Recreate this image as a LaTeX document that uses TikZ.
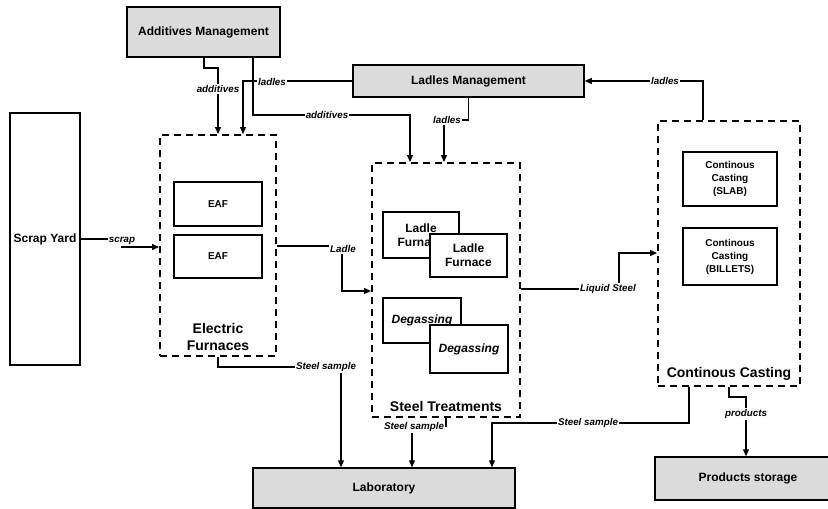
\documentclass[tikz,border=0pt]{standalone}
\usepackage{fontspec}
\setmainfont{Liberation Sans}
\usetikzlibrary{arrows.meta}
\definecolor{boxgray}{gray}{0.86}
\tikzset{
 mgmt/.style={draw,fill=boxgray,line width=1.5pt,inner sep=0pt,font=\bfseries\fontsize{12}{14}\selectfont},
 unit/.style={draw,fill=white,line width=1.4pt,inner sep=0pt,align=center},
 fbig/.style={font=\bfseries\fontsize{12}{14}\selectfont},
 fsmall/.style={font=\bfseries\fontsize{10}{13}\selectfont},
 group/.style={draw,line width=1.9pt,dash pattern=on 7pt off 5pt,inner sep=0pt},
 grouplbl/.style={align=center,font=\bfseries\fontsize{14}{17}\selectfont},
 flow/.style={line width=1.2pt,-{Triangle[length=7pt,width=6pt]}},
 lbl/.style={fill=white,inner sep=1pt,font=\bfseries\itshape\fontsize{9.8}{11}\selectfont}
}
\begin{document}
\begin{tikzpicture}[x=1pt,y=-1pt]
\useasboundingbox (0,0) rectangle (828,509);
\node[mgmt,minimum width=153,minimum height=50] (AM) at (203.5,32) {Additives Management};
\node[mgmt,minimum width=231,minimum height=32] (LM) at (468.5,81) {Ladles Management};
\node[unit,fbig,minimum width=70,minimum height=252] (SY) at (45,239) {Scrap Yard};
\node[group,minimum width=116,minimum height=221] (EF) at (218,245.5) {};
\node[unit,fsmall,minimum width=88,minimum height=44] (EAF1) at (218,204) {EAF};
\node[unit,fsmall,minimum width=88,minimum height=43] (EAF2) at (218,256.5) {EAF};
\node[grouplbl] (EFlbl) at (218,337) {Electric\\Furnaces};
\node[group,minimum width=148,minimum height=254] (ST) at (446,290) {};
\node[unit,fbig,minimum width=76,minimum height=46] (LF1) at (421,235) {Ladle\\Furnace};
\node[unit,fbig,minimum width=77,minimum height=43] (LF2) at (468.5,255.5) {Ladle\\Furnace};
\node[unit,fbig,font=\bfseries\itshape\fontsize{12}{14}\selectfont,minimum width=78,minimum height=45] (DG1) at (422,320.5) {Degassing};
\node[unit,fbig,font=\bfseries\itshape\fontsize{12}{14}\selectfont,minimum width=78,minimum height=48] (DG2) at (469,349) {Degassing};
\node[grouplbl] (STlbl) at (446,406) {Steel Treatments};
\node[group,minimum width=142,minimum height=265] (CC) at (729,253.5) {};
\node[unit,fsmall,minimum width=94,minimum height=54] (CC1) at (730,179) {Continous\\Casting\\(SLAB)};
\node[unit,fsmall,minimum width=94,minimum height=57] (CC2) at (730,256.5) {Continous\\Casting\\(BILLETS)};
\node[grouplbl] (CClbl) at (729,374) {Continous Casting};
\node[mgmt,minimum width=262,minimum height=40] (Lab) at (384,488) {Laboratory};
\node[mgmt,minimum width=186,minimum height=43] (PS) at (748,478.5) {Products storage};
\draw[flow] (AM.south -| 204,0) -- (204,68) -| (EF.north);
\draw[flow] (LM.west) -| (EF.north -| 243,0);
\draw[flow] (AM.south -| 253,0) |- (410,115) -- (ST.north -| 410,0);
\draw[flow] (LM.south) |- (444,120) -- (ST.north -| 444,0);
\draw[flow] (CC.north -| 703,0) |- (LM.east);
\draw[flow] (SY.east) -- (122,239) -- (122,247) -- (EF.west |- 0,247);
\draw[flow] (EF.east |- 0,246) -| (342,291) -- (ST.west |- 0,291);
\draw[flow] (ST.east |- 0,289) -| (619,253) -- (CC.west |- 0,253);
\draw[flow] (EF.south) |- (341,367) -- (Lab.north -| 341,0);
\draw[flow] (ST.south) |- (412,426) -- (Lab.north -| 412,0);
\draw[flow] (CC.south -| 689,0) |- (492,423) -- (Lab.north -| 492,0);
\draw[flow] (CC.south) |- (746,397) -- (PS.north -| 746,0);
\node[lbl] (l1) at (218,89) {additives};
\node[lbl] (l2) at (272,82) {ladles};
\node[lbl] (l3) at (327,115) {additives};
\node[lbl] (l4) at (447,120) {ladles};
\node[lbl] (l5) at (665,81) {ladles};
\node[lbl] (l6) at (122,241) {scrap};
\node[lbl] (l7) at (343,249) {Ladle};
\node[lbl] (l8) at (608,289) {Liquid Steel};
\node[lbl] (l9) at (326,367) {Steel sample};
\node[lbl] (l10) at (414,427) {Steel sample};
\node[lbl] (l11) at (588,423) {Steel sample};
\node[lbl] (l12) at (746,414) {products};
\end{tikzpicture}
\end{document}
